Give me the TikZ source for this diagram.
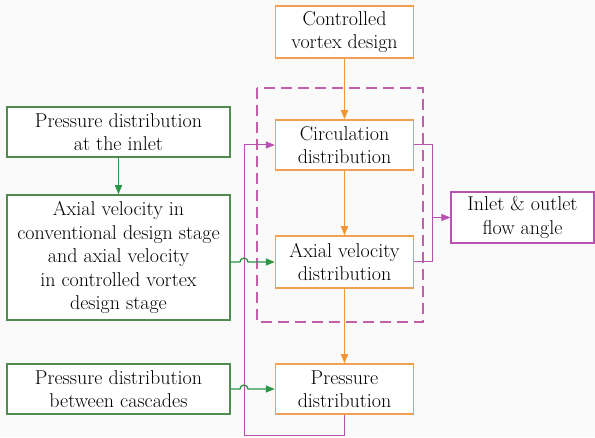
\documentclass[tikz,border=0pt]{standalone}
\usetikzlibrary{arrows.meta}
\definecolor{org}{RGB}{240,160,80}
\definecolor{orgA}{RGB}{240,150,50}
\definecolor{grn}{RGB}{80,140,80}
\definecolor{grnA}{RGB}{40,150,70}
\definecolor{mag}{RGB}{185,80,180}
\definecolor{magD}{RGB}{195,95,170}
\definecolor{bg}{RGB}{250,250,250}
\tikzset{
  txt/.style={font=\fontsize{20}{23.5}\selectfont, text=black},
  obox/.style={txt, draw=org, line width=1.5pt, fill=white, minimum width=138pt, inner sep=0pt, align=center},
  gbox/.style={txt, draw=grn, line width=1.5pt, fill=white, minimum width=223pt, inner sep=0pt, align=center},
  mbox/.style={txt, draw=mag, line width=1.2pt, fill=white, minimum width=143pt, minimum height=51pt, inner sep=0pt, align=center},
  oarr/.style={draw=orgA, line width=1.5pt, -{Triangle[length=9pt,width=7pt]}},
  garr/.style={draw=grnA, line width=1.3pt, -{Triangle[length=9pt,width=7pt]}},
  marr/.style={draw=mag, line width=1pt, -{Triangle[length=9pt,width=7pt]}},
  mline/.style={draw=mag, line width=1pt},
}
\begin{document}
\begin{tikzpicture}[x=1pt,y=1pt]
\fill[bg] (0,0) rectangle (595,437);
\useasboundingbox (0,0) rectangle (595,437);
% dashed frame
\draw[magD, line width=2pt, dash pattern=on 11pt off 6pt] (257,349) rectangle (423,115);
% orange boxes
\node[obox, minimum height=52pt] (cvd) at (344.5,405) {Controlled\\vortex design};
\node[obox, minimum height=50pt] (circ) at (344.5,292) {Circulation\\distribution};
\node[obox, minimum height=52pt] (axial) at (344.5,175) {Axial velocity\\distribution};
\node[obox, minimum height=50pt] (press) at (344.5,48) {Pressure\\distribution};
% green boxes
\node[gbox, minimum height=50pt] (inlet) at (118.5,305) {Pressure distribution\\at the inlet};
\node[gbox, minimum height=125pt] (axvel) at (118.5,179.5) {Axial velocity in\\conventional design stage\\and axial velocity\\in controlled vortex\\design stage};
\node[gbox, minimum height=50pt] (pbc) at (118.5,48) {Pressure distribution\\between cascades};
% magenta box
\node[mbox] (flow) at (522.5,219.5) {Inlet \& outlet\\flow angle};
% orange arrows
\draw[oarr] (cvd) -- (circ);
\draw[oarr] (circ) -- (axial);
\draw[oarr] (axial) -- (press);
% green arrows
\draw[garr] (inlet) -- (axvel);
% magenta feedback
\coordinate (mb) at (344.5,2);
\coordinate (ml) at (244,2);
\draw[marr] (press.south) -- (mb) -- (ml) -- (ml |- circ) -- (circ.west);
% green arrows with hops
\draw[garr] (axvel.east |- axial) -- (240,175) arc[start angle=180,end angle=0,radius=4pt] -- (axial.west);
\draw[garr] (pbc.east) -- (240,48) arc[start angle=180,end angle=0,radius=4pt] -- (press.west);
% right magenta
\coordinate (mr) at (432,292);
\draw[mline] (circ.east) -- (mr) -- (mr |- axial) -- (axial.east);
\draw[marr] (mr |- flow) -- (flow.west);
\end{tikzpicture}
\end{document}
